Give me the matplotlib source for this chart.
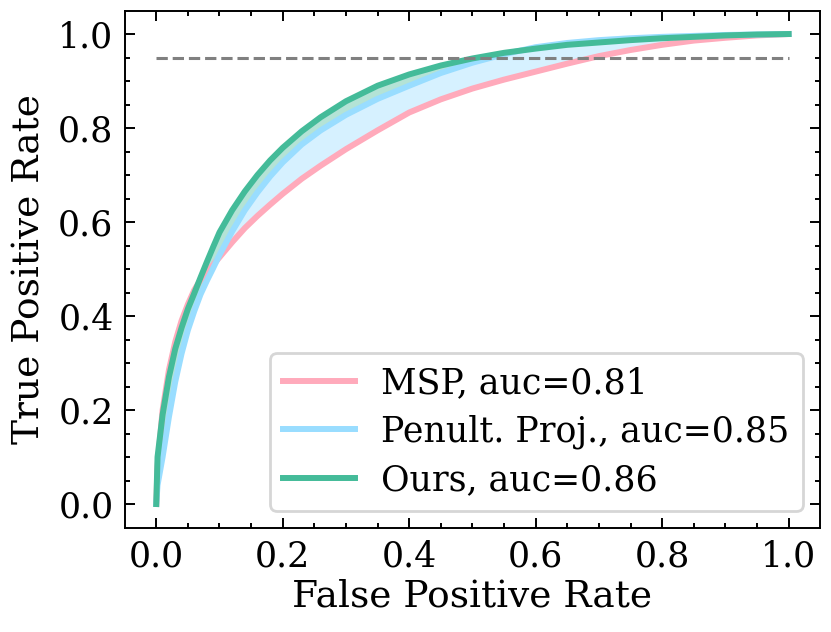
import matplotlib
matplotlib.use("Agg")
import matplotlib.pyplot as plt
import numpy as np

fpr = [0, 0.002, 0.01, 0.02, 0.03, 0.04, 0.05, 0.06, 0.07, 0.08, 0.09, 0.10, 0.12, 0.14,
       0.16, 0.18, 0.20, 0.23, 0.26, 0.30, 0.35, 0.40, 0.45, 0.50, 0.55, 0.60, 0.65, 0.70,
       0.75, 0.80, 0.85, 0.90, 0.95, 1.0]

tpr_msp = [0, 0.08, 0.20, 0.285, 0.345, 0.39, 0.425, 0.455, 0.477, 0.494, 0.509, 0.525, 0.557,
           0.587, 0.613, 0.637, 0.66, 0.692, 0.72, 0.755, 0.795, 0.833, 0.861, 0.884, 0.903,
           0.920, 0.937, 0.953, 0.966, 0.977, 0.986, 0.992, 0.997, 1.0]

tpr_penult = [0, 0.04, 0.10, 0.185, 0.26, 0.32, 0.37, 0.41, 0.446, 0.475, 0.502, 0.53, 0.58,
              0.625, 0.663, 0.697, 0.727, 0.765, 0.795, 0.828, 0.862, 0.89, 0.917, 0.939, 0.957,
              0.972, 0.981, 0.987, 0.991, 0.994, 0.996, 0.998, 0.999, 1.0]

tpr_ours = [0, 0.10, 0.19, 0.27, 0.33, 0.375, 0.415, 0.448, 0.482, 0.515, 0.547, 0.578, 0.625,
            0.665, 0.700, 0.731, 0.758, 0.793, 0.823, 0.857, 0.890, 0.914, 0.933, 0.948, 0.960,
            0.969, 0.977, 0.982, 0.987, 0.991, 0.994, 0.997, 0.999, 1.0]

labels = ["MSP, auc=0.81", "Penult. Proj., auc=0.85", "Ours, auc=0.86"]
colors = ["#FFAABB", "#99DDFF", "#44BB99"]
threshold = 0.95

plt.rcParams['font.family'] = ['DejaVu Serif']
plt.rcParams['mathtext.fontset'] = 'dejavuserif'

fig = plt.figure(figsize=(8.31, 6.32), dpi=100)
ax = fig.add_axes([0.150, 0.1646, 0.837, 0.818])

x = np.array(fpr)
y_msp = np.array(tpr_msp)
y_pen = np.array(tpr_penult)
y_our = np.array(tpr_ours)

ax.fill_between(x, y_msp, y_pen, where=y_pen >= y_msp, color=colors[1], alpha=0.4,
                linewidth=0, interpolate=True)
ax.fill_between(x, y_pen, y_our, where=y_our >= y_pen, color=colors[2], alpha=0.4,
                linewidth=0, interpolate=True)

for yy, c, lab in zip([y_msp, y_pen, y_our], colors, labels):
    ax.plot(x, yy, color=c, lw=4.3, label=lab, solid_joinstyle='round')

ax.plot([0, 1], [threshold, threshold], color='gray', ls='--', lw=2.2)

ax.set_xlim(-0.05, 1.05)
ax.set_ylim(-0.051, 1.049)
ax.set_xticks(np.arange(0, 1.01, 0.2))
ax.set_yticks(np.arange(0, 1.01, 0.2))
ax.set_xticks(np.arange(0, 1.01, 0.05), minor=True)
ax.set_yticks(np.arange(0, 1.01, 0.05), minor=True)
ax.xaxis.set_major_formatter(matplotlib.ticker.FormatStrFormatter('%.1f'))
ax.yaxis.set_major_formatter(matplotlib.ticker.FormatStrFormatter('%.1f'))
ax.tick_params(which='both', direction='in', top=True, right=True, width=1.4)
ax.tick_params(which='major', length=7, labelsize=25, pad=8)
ax.tick_params(which='minor', length=3.6)
for s in ax.spines.values():
    s.set_linewidth(1.4)

ax.set_xlabel("False Positive Rate", fontsize=27, labelpad=4)
ax.set_ylabel("True Positive Rate", fontsize=27, labelpad=8)

leg = ax.legend(loc='lower right', fontsize=25, handlelength=2.05, frameon=True,
                fancybox=True, framealpha=0.8, edgecolor='0.8', borderaxespad=0.5,
                labelspacing=0.4, handletextpad=0.75, borderpad=0.4)
leg.get_frame().set_linewidth(2)

fig.savefig("out.png", dpi=100)
